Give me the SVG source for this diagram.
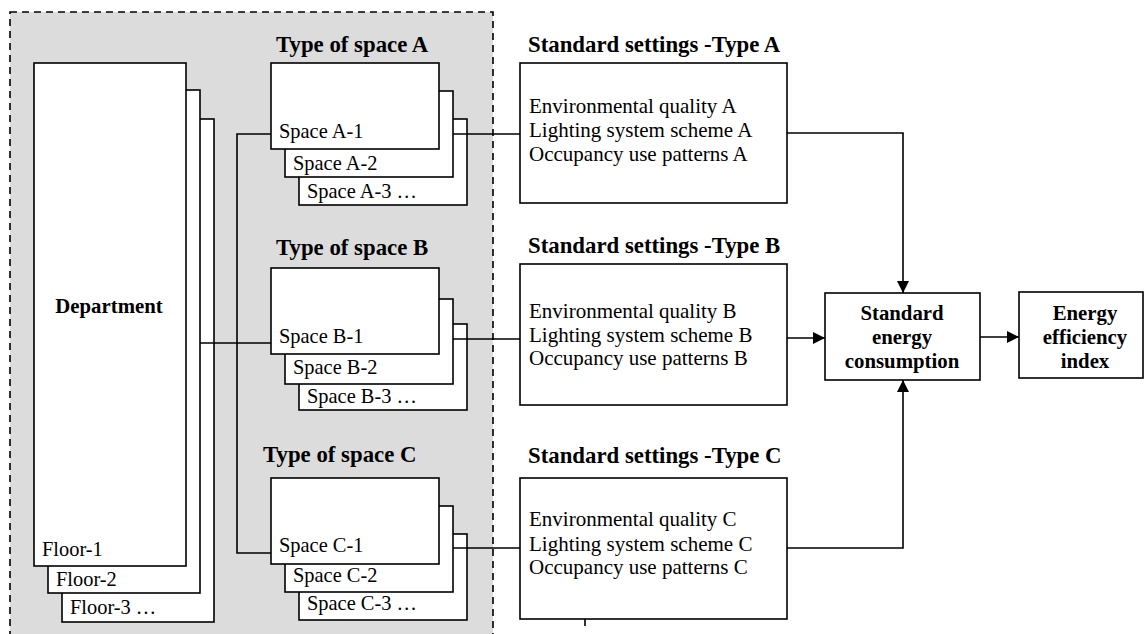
<svg xmlns="http://www.w3.org/2000/svg" width="1144" height="634" viewBox="0 0 1144 634">
<style>
.box{fill:#fff;stroke:#000;stroke-width:1.6}
.ln{fill:none;stroke:#000;stroke-width:1.6}
.t{font-family:"Liberation Serif","Times New Roman",serif;font-size:21px;fill:#000}
.s{font-family:"Liberation Serif","Times New Roman",serif;font-size:20.4px;fill:#000}
.h{font-family:"Liberation Serif","Times New Roman",serif;font-size:22.8px;font-weight:bold;fill:#000}
.b{font-family:"Liberation Serif","Times New Roman",serif;font-size:20.8px;font-weight:bold;fill:#000}
</style>
<defs>
<marker id="arr" viewBox="0 0 12 12" refX="12" refY="6" markerWidth="12" markerHeight="12" markerUnits="userSpaceOnUse" orient="auto">
<path d="M0,0 L12,6 L0,12 Z" fill="#000"/>
</marker>
</defs>
<rect x="10" y="12" width="483" height="640" fill="#dcdcdc" stroke="#000" stroke-width="1.6" stroke-dasharray="7,5"/>
<g id="department">
<rect class="box" x="62" y="119" width="152" height="503"/>
<rect class="box" x="48" y="90" width="152" height="503"/>
<rect class="box" x="34" y="63" width="152" height="503"/>
<text class="b" x="109" y="313" text-anchor="middle">Department</text>
<text class="s" x="42" y="556">Floor-1</text>
<text class="s" x="56" y="586">Floor-2</text>
<text class="s" x="70" y="614">Floor-3 …</text>
</g>
<g id="spaceA">
<text class="h" x="276" y="52">Type of space A</text>
<rect class="box" x="299" y="119" width="168" height="86"/>
<rect class="box" x="285" y="91" width="168" height="86"/>
<rect class="box" x="271" y="63" width="168" height="86"/>
<text class="s" x="279" y="138">Space A-1</text>
<text class="s" x="293" y="170">Space A-2</text>
<text class="s" x="307" y="198">Space A-3 …</text>
</g>
<g id="spaceB">
<text class="h" x="276" y="255">Type of space B</text>
<rect class="box" x="299" y="324" width="168" height="86"/>
<rect class="box" x="285" y="299" width="168" height="85"/>
<rect class="box" x="271" y="268" width="168" height="86"/>
<text class="s" x="279" y="343">Space B-1</text>
<text class="s" x="293" y="374">Space B-2</text>
<text class="s" x="307" y="403">Space B-3 …</text>
</g>
<g id="spaceC">
<text class="h" x="263" y="462">Type of space C</text>
<rect class="box" x="299" y="534" width="168" height="86"/>
<rect class="box" x="285" y="506" width="168" height="86"/>
<rect class="box" x="271" y="478" width="168" height="86"/>
<text class="s" x="279" y="552">Space C-1</text>
<text class="s" x="293" y="582">Space C-2</text>
<text class="s" x="307" y="610">Space C-3 …</text>
</g>
<g id="settingsA">
<text class="h" x="528" y="52">Standard settings -Type A</text>
<rect class="box" x="520" y="63" width="267" height="140"/>
<text class="t" x="529" y="113">Environmental quality A</text>
<text class="t" x="529" y="137">Lighting system scheme A</text>
<text class="t" x="529" y="161">Occupancy use patterns A</text>
</g>
<g id="settingsB">
<text class="h" x="528" y="253">Standard settings -Type B</text>
<rect class="box" x="520" y="264" width="267" height="141"/>
<text class="t" x="529" y="318">Environmental quality B</text>
<text class="t" x="529" y="342">Lighting system scheme B</text>
<text class="t" x="529" y="365">Occupancy use patterns B</text>
</g>
<g id="settingsC">
<text class="h" x="528" y="463">Standard settings -Type C</text>
<rect class="box" x="520" y="478" width="267" height="141"/>
<text class="t" x="529" y="526">Environmental quality C</text>
<text class="t" x="529" y="551">Lighting system scheme C</text>
<text class="t" x="529" y="574">Occupancy use patterns C</text>
</g>
<g id="standardEnergy">
<rect class="box" x="825" y="293" width="155" height="87"/>
<text class="b" x="902" y="320" text-anchor="middle">Standard</text>
<text class="b" x="902" y="344" text-anchor="middle">energy</text>
<text class="b" x="902" y="368" text-anchor="middle">consumption</text>
</g>
<g id="efficiencyIndex">
<rect class="box" x="1019" y="292" width="124" height="86"/>
<text class="b" x="1085" y="320" text-anchor="middle">Energy</text>
<text class="b" x="1085" y="344" text-anchor="middle">efficiency</text>
<text class="b" x="1085" y="368" text-anchor="middle">index</text>
</g>
<g id="connectors">
<path class="ln" d="M200,343 H271"/>
<path class="ln" d="M271,134 H237 V553 H271"/>
<path class="ln" d="M453,134 H520"/>
<path class="ln" d="M453,339 H520"/>
<path class="ln" d="M453,548 H520"/>
<path class="ln" d="M787,133 H903 V293" marker-end="url(#arr)"/>
<path class="ln" d="M787,338 H825" marker-end="url(#arr)"/>
<path class="ln" d="M787,548 H903 V380" marker-end="url(#arr)"/>
<path class="ln" d="M980,337 H1019" marker-end="url(#arr)"/>
<path class="ln" d="M585,619 V626"/>
</g>
</svg>
